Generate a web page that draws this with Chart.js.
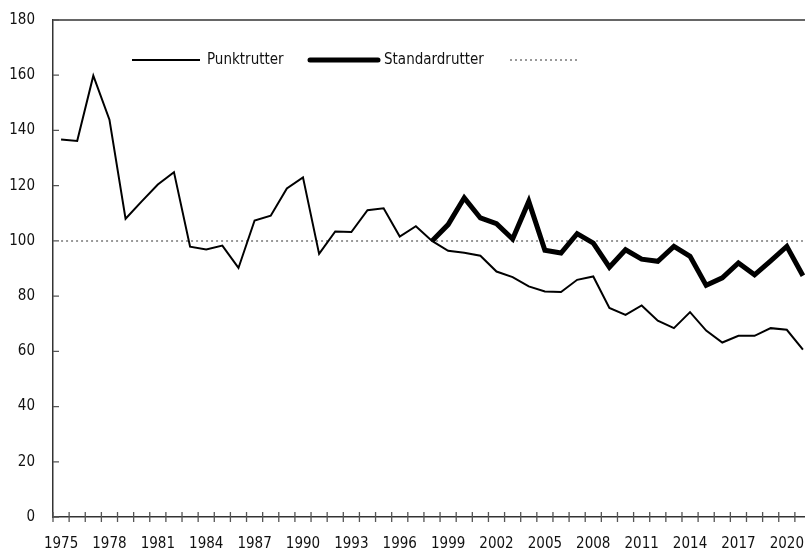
<!DOCTYPE html>
<html>
<head>
<meta charset="utf-8">
<script src="https://cdn.jsdelivr.net/npm/chart.js@4.4.0/dist/chart.umd.min.js"></script>
<style>
  html, body { margin: 0; padding: 0; background: #fff; overflow: hidden; }
</style>
</head>
<body>
<canvas id="chart" width="812" height="548"></canvas>
<script>
const FONT = '"DejaVu Sans Condensed", "Liberation Sans Narrow", sans-serif';

// Years on the x axis
const years = [
  1975, 1976, 1977, 1978, 1979, 1980, 1981, 1982, 1983, 1984,
  1985, 1986, 1987, 1988, 1989, 1990, 1991, 1992, 1993, 1994,
  1995, 1996, 1997, 1998, 1999, 2000, 2001, 2002, 2003, 2004,
  2005, 2006, 2007, 2008, 2009, 2010, 2011, 2012, 2013, 2014,
  2015, 2016, 2017, 2018, 2019, 2020, 2021
];

// Index values, thin line
const punktrutter = [
  136.7, 136.2, 159.8, 143.9, 108.0, 114.3, 120.4, 124.9, 97.9, 96.9,
  98.3, 90.2, 107.4, 109.1, 119.0, 123.0, 95.3, 103.4, 103.2, 111.1,
  111.8, 101.6, 105.3, 100.0, 96.4, 95.7, 94.6, 88.9, 86.9, 83.5,
  81.7, 81.5, 85.9, 87.1, 75.7, 73.2, 76.6, 71.1, 68.4, 74.2,
  67.5, 63.2, 65.6, 65.6, 68.4, 67.8, 60.6
];

// Index values, thick line (starts 1998)
const standardrutter = [
  null, null, null, null, null, null, null, null, null, null,
  null, null, null, null, null, null, null, null, null, null,
  null, null, null, 100.0, 105.9, 115.6, 108.3, 106.2, 100.7, 114.3,
  96.6, 95.6, 102.6, 99.2, 90.5, 96.8, 93.4, 92.6, 98.0, 94.4,
  83.9, 86.6, 92.0, 87.7, 92.8, 98.0, 87.4
];

// Reference level (dotted line)
const baseline = 100;

// Tick marks on both axes and the top frame line
const axisMarks = {
  id: "axisMarks",
  afterDraw(chart) {
    const { ctx, chartArea: area, scales: { x, y } } = chart;
    ctx.save();
    ctx.strokeStyle = "#333";
    ctx.lineWidth = 1.5;
    ctx.beginPath();
    ctx.moveTo(area.left, area.top);
    ctx.lineTo(area.right, area.top);
    ctx.stroke();

    ctx.strokeStyle = "#555";
    ctx.lineWidth = 1.3;
    ctx.beginPath();
    const step = x.getPixelForValue(1) - x.getPixelForValue(0);
    for (let i = 0; i <= years.length; i++) {
      const px = x.getPixelForValue(i) - step / 2;
      ctx.moveTo(px, area.bottom - 5);
      ctx.lineTo(px, area.bottom + 5);
    }
    y.ticks.forEach(t => {
      const py = y.getPixelForValue(t.value);
      ctx.moveTo(area.left, py);
      ctx.lineTo(area.left + 6, py);
    });
    ctx.stroke();
    ctx.restore();
  }
};

// Legend drawn inside the plot, near the top
const innerLegend = {
  id: "innerLegend",
  afterDraw(chart) {
    const { ctx } = chart;
    const ly = 60;
    ctx.save();
    ctx.font = "15px " + FONT;
    ctx.fillStyle = "#111";
    ctx.textBaseline = "middle";

    ctx.strokeStyle = "#000";
    ctx.lineWidth = 2;
    ctx.beginPath();
    ctx.moveTo(132, ly);
    ctx.lineTo(200, ly);
    ctx.stroke();
    ctx.fillText("Punktrutter", 207, ly);

    ctx.lineWidth = 5;
    ctx.lineCap = "round";
    ctx.beginPath();
    ctx.moveTo(310, ly);
    ctx.lineTo(378, ly);
    ctx.stroke();
    ctx.fillText("Standardrutter", 384, ly);

    ctx.lineCap = "butt";
    ctx.strokeStyle = "#999";
    ctx.lineWidth = 2;
    ctx.setLineDash([2, 3]);
    ctx.beginPath();
    ctx.moveTo(510, ly);
    ctx.lineTo(577, ly);
    ctx.stroke();
    ctx.restore();
  }
};

const ctx = document.getElementById("chart").getContext("2d");

new Chart(ctx, {
  type: "line",
  data: {
    labels: years,
    datasets: [
      {
        label: "Standardrutter",
        data: standardrutter,
        borderColor: "#000",
        borderWidth: 5,
        pointRadius: 0,
        tension: 0,
        spanGaps: false
      },
      {
        label: "Punktrutter",
        data: punktrutter,
        borderColor: "#000",
        borderWidth: 2,
        pointRadius: 0,
        tension: 0
      },
      {
        label: "",
        data: years.map(() => baseline),
        borderColor: "#999",
        borderWidth: 2,
        borderDash: [2, 3],
        pointRadius: 0,
        tension: 0
      }
    ]
  },
  options: {
    responsive: false,
    animation: false,
    layout: { padding: { top: 20, right: 1, left: 0, bottom: 0 } },
    plugins: {
      legend: { display: false },
      tooltip: { enabled: false }
    },
    scales: {
      x: {
        offset: true,
        grid: { display: false, drawTicks: false },
        border: { display: true, color: "#333", width: 1.5 },
        ticks: {
          autoSkip: false,
          maxRotation: 0,
          padding: 18,
          color: "#111",
          font: { family: FONT, size: 15 },
          callback: (value, index) => (index % 3 === 0 ? years[index] : "")
        },
        afterFit: scale => {
          scale.height = 31;
          scale.paddingLeft = 0;
          scale.paddingRight = 0;
        }
      },
      y: {
        min: 0,
        max: 180,
        grid: { display: false, drawTicks: false },
        border: { display: true, color: "#333", width: 1.5 },
        ticks: {
          stepSize: 20,
          padding: 18,
          color: "#111",
          font: { family: FONT, size: 15 }
        },
        afterFit: scale => {
          scale.width = 53;
          scale.paddingTop = 0;
          scale.paddingBottom = 0;
        }
      }
    }
  },
  plugins: [axisMarks, innerLegend]
});
</script>
</body>
</html>
